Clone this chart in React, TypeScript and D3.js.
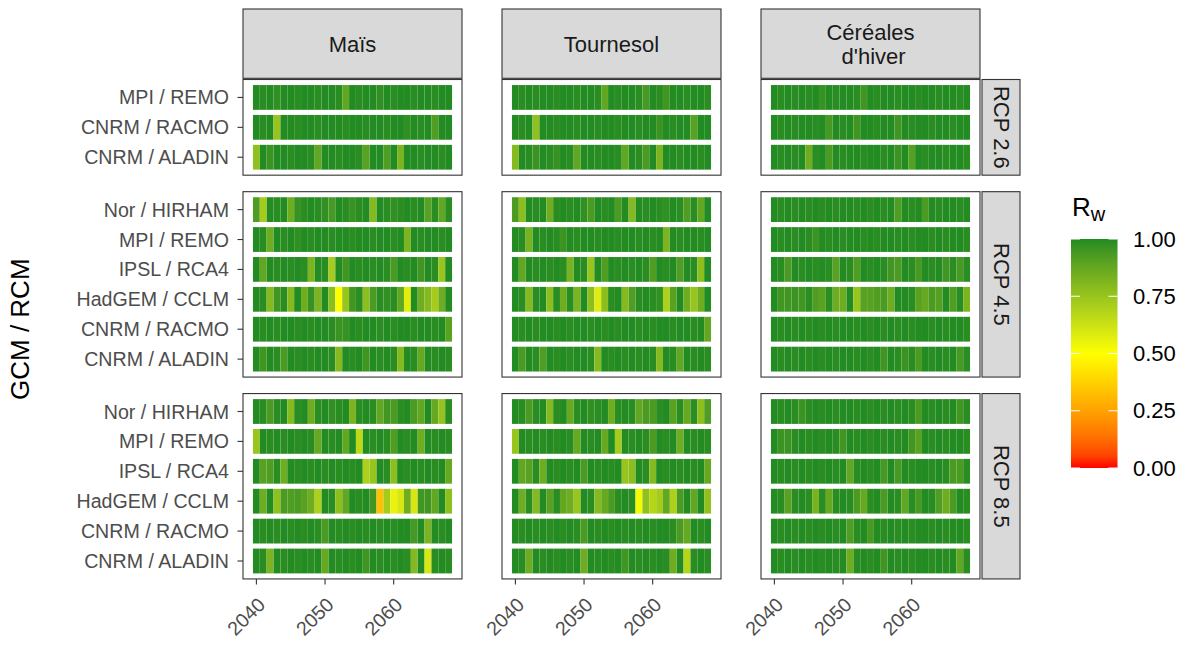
import * as d3 from "d3";

// years on the x axis and tick labels
const years = d3.range(2040, 2069);
const xTicks = [2040, 2050, 2060];
const legendTicks = [0, 0.25, 0.5, 0.75, 1];

const cropLabels = [["Maïs"], ["Tournesol"], ["Céréales", " d'hiver"]];
const scenarios = ["RCP 2.6", "RCP 4.5", "RCP 8.5"];

const modelsRcp26 = ["MPI / REMO", "CNRM / RACMO", "CNRM / ALADIN"];
const modelsRcp45 = ["Nor / HIRHAM", "MPI / REMO", "IPSL / RCA4", "HadGEM / CCLM", "CNRM / RACMO", "CNRM / ALADIN"];
const modelsRcp85 = ["Nor / HIRHAM", "MPI / REMO", "IPSL / RCA4", "HadGEM / CCLM", "CNRM / RACMO", "CNRM / ALADIN"];

// Rw in percent, one row per model (display order), one value per year 2040-2068
const maisRcp26 = [
  [100,99,100,98,100,100,99,100,100,99,100,100,99,88,100,99,100,100,98,100,99,100,100,99,100,100,99,100,100],
  [100,99,100,75,100,100,99,100,100,99,100,100,100,99,100,100,99,100,100,99,100,100,98,100,99,100,92,100,100],
  [77,100,96,100,100,99,100,100,99,88,100,100,99,100,100,99,90,100,100,92,100,82,100,100,99,100,100,99,100],
];
const tournesolRcp26 = [
  [100,99,100,99,100,100,99,100,100,99,100,100,99,88,100,99,100,100,99,94,100,99,95,100,100,99,100,100,99],
  [100,99,100,77,100,100,99,100,100,99,100,100,99,100,100,99,100,100,99,100,100,96,100,99,100,100,90,100,100],
  [80,100,99,96,100,99,97,100,99,88,100,100,99,100,100,99,88,100,99,93,100,82,100,100,99,100,100,99,100],
];
const cerealesRcp26 = [
  [100,99,100,99,100,99,100,97,100,99,100,100,99,95,100,99,100,100,99,100,100,99,100,100,99,100,100,99,100],
  [100,99,100,99,100,100,99,100,94,100,99,100,95,100,100,99,100,100,95,100,99,100,100,99,100,100,99,100,100],
  [100,99,100,99,100,85,99,100,93,100,99,100,100,99,100,100,99,100,96,100,91,100,99,100,100,99,100,100,99],
];

const maisRcp45 = [
  [92,72,100,99,100,85,97,99,100,99,98,94,100,99,97,99,100,80,100,99,98,99,100,99,100,90,99,88,99],
  [100,99,85,100,99,100,98,100,99,100,100,99,100,100,99,100,100,99,100,100,99,100,82,100,99,100,100,99,100],
  [100,88,100,99,100,99,100,99,82,100,99,72,100,95,100,99,100,99,100,99,93,100,99,100,95,100,99,75,100],
  [100,99,80,95,99,80,100,85,97,82,100,78,50,75,95,99,78,93,99,98,99,88,57,100,85,80,72,85,100],
  [100,99,100,99,100,100,99,100,99,100,100,99,96,97,100,99,100,100,99,100,99,100,100,99,100,100,99,100,90],
  [100,95,100,99,93,100,99,100,99,100,100,99,80,100,99,100,95,100,99,100,99,80,100,99,87,100,99,100,99],
];
const tournesolRcp45 = [
  [93,78,100,99,100,85,99,100,99,100,98,93,100,99,100,93,100,80,100,99,100,99,98,100,99,92,99,88,100],
  [100,99,83,100,99,100,99,96,100,99,100,100,99,100,100,99,100,100,99,100,99,100,82,100,99,100,100,99,100],
  [100,88,100,99,100,99,100,99,83,100,99,75,100,92,100,99,100,99,100,99,92,100,99,100,92,100,99,78,100],
  [100,99,80,99,100,78,99,85,99,82,100,78,58,78,99,100,80,92,99,100,99,98,70,90,100,85,75,85,100],
  [100,99,100,99,100,100,99,100,99,100,100,99,100,99,100,99,100,100,99,100,99,100,100,99,100,100,99,100,88],
  [100,93,100,99,92,100,99,100,99,100,100,99,80,100,99,100,99,100,99,100,99,80,100,99,88,100,99,100,99],
];
const cerealesRcp45 = [
  [100,99,100,99,100,99,100,99,100,99,100,100,99,100,99,100,99,100,92,100,99,100,93,100,99,100,100,99,100],
  [100,99,100,99,100,99,96,100,99,100,99,100,100,99,100,99,100,100,99,100,99,100,100,99,100,99,100,100,99],
  [100,99,93,100,99,100,99,100,99,90,100,99,92,100,99,100,99,95,93,100,99,94,100,99,100,95,99,94,99],
  [100,95,95,96,95,99,92,90,99,85,85,100,75,90,90,92,93,85,100,100,99,90,87,93,91,100,92,99,82],
  [100,99,100,99,100,99,100,99,100,99,100,100,99,100,99,100,99,100,99,100,99,100,100,99,100,99,100,100,99],
  [100,99,100,99,100,99,100,99,100,99,100,100,99,100,99,100,95,100,99,96,99,93,100,99,100,99,100,94,99],
];

const maisRcp85 = [
  [100,99,93,99,100,80,99,100,85,99,100,98,99,100,82,99,100,99,88,95,93,99,100,93,88,100,87,76,99],
  [75,100,99,100,99,100,99,100,99,87,100,99,100,88,100,66,100,99,100,99,92,100,99,100,85,100,99,100,99],
  [100,90,92,99,85,100,99,100,99,100,99,100,99,100,99,100,70,75,100,99,78,100,99,100,99,100,99,100,87],
  [100,85,100,77,93,92,93,90,85,70,100,99,78,88,100,99,100,95,33,72,55,60,85,60,95,95,88,100,78],
  [100,99,100,99,100,99,100,99,100,99,93,100,99,100,99,100,99,100,99,100,99,100,100,94,100,82,100,99,100],
  [100,99,82,100,99,100,99,100,99,100,87,100,99,100,99,100,95,100,99,100,99,100,99,80,100,60,99,100,99],
];
const tournesolRcp85 = [
  [100,99,93,99,100,80,99,100,87,99,100,98,99,100,85,99,100,99,88,93,93,99,100,90,99,87,99,78,92],
  [75,100,99,100,99,100,99,100,99,87,100,99,100,87,100,72,100,99,100,99,93,100,99,100,85,100,99,100,99],
  [100,88,90,99,85,100,99,100,99,100,93,100,99,100,99,100,75,78,100,99,80,100,99,100,99,100,99,100,87],
  [100,85,99,80,100,90,99,88,85,75,100,99,80,87,93,99,100,99,52,77,68,72,88,70,93,100,88,100,77],
  [100,99,100,99,100,99,100,99,100,99,93,100,99,100,99,100,99,100,99,100,99,100,100,99,93,87,100,99,100],
  [100,99,85,100,99,100,99,100,99,100,85,100,99,100,99,100,95,100,99,100,99,100,99,85,100,68,99,100,99],
];
const cerealesRcp85 = [
  [100,99,100,99,96,99,100,99,100,99,100,100,99,100,99,100,99,100,99,100,99,93,100,99,100,99,100,95,99],
  [100,96,96,99,100,99,100,99,100,99,95,100,99,100,99,100,99,100,99,100,95,90,100,99,100,99,100,100,99],
  [100,99,100,99,100,99,100,99,100,99,100,88,99,100,99,100,94,100,94,100,99,100,100,99,100,99,93,93,99],
  [100,99,90,99,100,99,83,99,87,99,100,99,93,87,99,100,93,100,99,88,99,94,100,99,92,85,93,100,99],
  [100,99,100,99,100,99,100,99,100,99,100,92,99,100,94,100,99,100,99,100,99,100,100,99,100,99,100,100,99],
  [100,99,100,99,100,99,100,99,100,99,100,85,99,100,99,100,95,100,99,100,99,100,100,99,100,99,100,88,99],
];

const panelData = [
  [maisRcp26, tournesolRcp26, cerealesRcp26],
  [maisRcp45, tournesolRcp45, cerealesRcp45],
  [maisRcp85, tournesolRcp85, cerealesRcp85],
];
const scenarioModels = [modelsRcp26, modelsRcp45, modelsRcp85];

const font = "'Liberation Sans', Arial, Helvetica, sans-serif";
const dark = "#333333";

const color = d3
  .scaleLinear<string>()
  .domain([0, 0.5, 1])
  .range(["red", "yellow", "forestgreen"])
  .interpolate(d3.interpolateLab);

// layout
const colX = [243, 502, 761];
const panelW = 219;
const unit = 29.9;
const panelGap = 16.5;
const firstTop = 79.5;
const stripTop = 9;
const stripRightX = 982;
const stripRightW = 38;

const panelHeights = scenarioModels.map((m) => unit * (m.length - 1 + 1.2));
const panelTops = panelHeights.map((_, i) =>
  panelHeights.slice(0, i).reduce((a, h) => a + h + panelGap, firstTop)
);
const bottom = panelTops[2] + panelHeights[2];

interface PanelProps {
  rows: number[][];
  models: string[];
  x0: number;
  y0: number;
  h: number;
  showY: boolean;
  showX: boolean;
}

const Panel = ({ rows, models, x0, y0, h, showY, showX }: PanelProps) => {
  const pad = years.length * 0.05;
  const x = d3
    .scaleLinear()
    .domain([years[0] - 0.5 - pad, years[years.length - 1] + 0.5 + pad])
    .range([x0, x0 + panelW]);
  const y = d3.scalePoint<string>().domain(models).range([y0, y0 + h]).padding(0.6);
  const tileH = y.step() * 0.83;
  const tileW = x(1) - x(0);

  return (
    <g>
      <rect x={x0} y={y0} width={panelW} height={h} fill="white" />
      {rows.map((row, ri) =>
        row.map((v, yi) => (
          <rect
            key={`${ri}-${yi}`}
            x={x(years[yi] - 0.5)}
            y={(y(models[ri]) ?? 0) - tileH / 2}
            width={tileW}
            height={tileH}
            fill={color(v / 100)}
            stroke="white"
            strokeOpacity={0.08}
            strokeWidth={0.5}
          />
        ))
      )}
      <rect x={x0} y={y0} width={panelW} height={h} fill="none" stroke={dark} strokeWidth={1.1} />
      {showY &&
        models.map((m) => (
          <g key={m} transform={`translate(${x0},${y(m)})`}>
            <line x1={-5.5} x2={0} stroke={dark} strokeWidth={1.1} />
            <text
              x={-14}
              textAnchor="end"
              dominantBaseline="central"
              fontSize={19.6}
              fill="#4D4D4D"
            >
              {m}
            </text>
          </g>
        ))}
      {showX &&
        xTicks.map((t) => (
          <g key={t} transform={`translate(${x(t)},${y0 + h})`}>
            <line y1={0} y2={5.5} stroke={dark} strokeWidth={1.1} />
            <text
              transform="translate(10,27) rotate(-45)"
              textAnchor="end"
              fontSize={19.6}
              fill="#4D4D4D"
            >
              {t}
            </text>
          </g>
        ))}
    </g>
  );
};

const Legend = () => {
  const lx = 1071;
  const lw = 46.5;
  const ly = d3.scaleLinear().domain([0, 1]).range([468, 239]);
  const stops = d3.range(0, 1.001, 0.05);
  return (
    <g>
      <defs>
        <linearGradient id="rwGrad" x1="0" y1="1" x2="0" y2="0">
          {stops.map((s) => (
            <stop key={s} offset={s} stopColor={color(s)} />
          ))}
        </linearGradient>
      </defs>
      <text x={lx + 1} y={216} fontSize={26} fill="black">
        R
        <tspan fontSize={20} dy={5}>
          w
        </tspan>
      </text>
      <rect x={lx} y={ly(1)} width={lw} height={ly(0) - ly(1)} fill="url(#rwGrad)" />
      {legendTicks.map((t) => (
        <g key={t}>
          <line x1={lx} x2={lx + 9} y1={ly(t)} y2={ly(t)} stroke="white" strokeWidth={1} />
          <line x1={lx + lw - 9} x2={lx + lw} y1={ly(t)} y2={ly(t)} stroke="white" strokeWidth={1} />
          <text x={1133} y={ly(t)} dominantBaseline="central" fontSize={22} fill="black">
            {t.toFixed(2)}
          </text>
        </g>
      ))}
    </g>
  );
};

export default function App() {
  return (
    <svg
      width={1185}
      height={646}
      style={{ position: "absolute", left: 0, top: 0, background: "white" }}
      fontFamily={font}
    >
      <rect width={1185} height={646} fill="white" />
      {cropLabels.map((lines, ci) => (
        <g key={ci}>
          <rect
            x={colX[ci]}
            y={stripTop}
            width={panelW}
            height={firstTop - stripTop - 1.2}
            fill="#D9D9D9"
            stroke={dark}
            strokeWidth={1.1}
          />
          {lines.map((l, li) => (
            <text
              key={li}
              x={colX[ci] + panelW / 2}
              y={(stripTop + firstTop) / 2 + (li - (lines.length - 1) / 2) * 24}
              textAnchor="middle"
              dominantBaseline="central"
              fontSize={22}
              fill="#1A1A1A"
              style={{ whiteSpace: "pre" }}
            >
              {l}
            </text>
          ))}
        </g>
      ))}
      {scenarios.map((s, si) => (
        <g key={s}>
          <rect
            x={stripRightX}
            y={panelTops[si]}
            width={stripRightW}
            height={panelHeights[si]}
            fill="#D9D9D9"
            stroke={dark}
            strokeWidth={1.1}
          />
          <text
            transform={`translate(${stripRightX + stripRightW / 2},${panelTops[si] + panelHeights[si] / 2}) rotate(90)`}
            textAnchor="middle"
            dominantBaseline="central"
            fontSize={22}
            fill="#1A1A1A"
          >
            {s}
          </text>
        </g>
      ))}
      {panelData.map((row, si) =>
        row.map((rows, ci) => (
          <Panel
            key={`${si}-${ci}`}
            rows={rows}
            models={scenarioModels[si]}
            x0={colX[ci]}
            y0={panelTops[si]}
            h={panelHeights[si]}
            showY={ci === 0}
            showX={si === 2}
          />
        ))
      )}
      <text
        transform={`translate(29,${(firstTop + bottom) / 2}) rotate(-90)`}
        textAnchor="middle"
        fontSize={26}
        fill="black"
      >
        GCM / RCM
      </text>
      <Legend />
    </svg>
  );
}
